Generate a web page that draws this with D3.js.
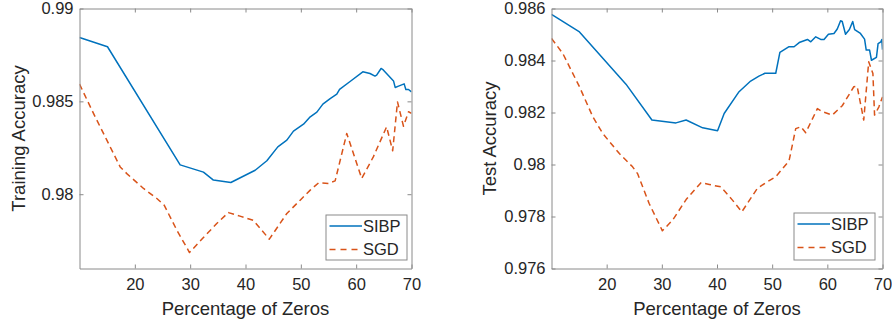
<!DOCTYPE html>
<html><head><meta charset="utf-8">
<script src="https://cdn.jsdelivr.net/npm/d3@7"></script>
<style>body{margin:0;background:#fff;} svg{display:block;font-family:"Liberation Sans",Arial,sans-serif;}</style>
</head><body>
<svg id="c" width="892" height="326"></svg>
<script>
// ---- data ----
const seriesNames = ["SIBP", "SGD"];
const xTicks = [20, 30, 40, 50, 60, 70];
const trainYTicks = [0.98, 0.985, 0.99];
const trainYTickLabels = ["0.98", "0.985", "0.99"];
const testYTicks = [0.976, 0.978, 0.98, 0.982, 0.984, 0.986];
const testYTickLabels = ["0.976", "0.978", "0.98", "0.982", "0.984", "0.986"];

const trainSIBP_x = [10, 15.06, 28.19, 32.4, 34.2, 37.35, 41.75, 43.86, 45.84, 47.47, 48.67, 50.48, 51.7, 52.9, 53.98, 55.3, 56.5, 57.0, 58.9, 61.2, 62.5, 63.4, 63.7, 64.5, 64.9, 66.75, 67.05, 67.65, 68.0, 68.67, 68.98, 69.46, 70];
const trainSIBP_y = [0.98844, 0.98794, 0.98158, 0.98119, 0.98076, 0.98063, 0.98129, 0.9818, 0.98255, 0.98291, 0.9834, 0.98377, 0.98417, 0.98442, 0.98485, 0.98515, 0.98539, 0.98564, 0.98607, 0.98659, 0.9865, 0.98636, 0.98641, 0.98677, 0.98669, 0.9861, 0.98575, 0.98582, 0.98586, 0.98594, 0.98564, 0.98564, 0.98551];
const trainSGD_x = [10, 12.53, 14.94, 17.35, 18.55, 21.57, 23.98, 25.3, 27.6, 29.88, 32.4, 34.8, 36.9, 39.0, 41.4, 44.3, 47.47, 49.88, 51.7, 53.2, 55.0, 56.2, 58.3, 61.0, 63.1, 65.5, 66.6, 67.47, 68.55, 69.46, 70];
const trainSGD_y = [0.98593, 0.98435, 0.98291, 0.98147, 0.98111, 0.98031, 0.97977, 0.97941, 0.97806, 0.97686, 0.97767, 0.97842, 0.97901, 0.97882, 0.9786, 0.97758, 0.97896, 0.97968, 0.98022, 0.98061, 0.98058, 0.98072, 0.98327, 0.98085, 0.98201, 0.98363, 0.98234, 0.98497, 0.98366, 0.98444, 0.98435];

const testSIBP_x = [10, 15.07, 23.5, 28.2, 32.56, 34.4, 37.4, 40.1, 41.3, 44.0, 46.1, 47.6, 48.7, 50.65, 51.4, 53.06, 53.97, 54.9, 56.4, 57.0, 57.9, 58.8, 59.4, 60.2, 61.2, 61.8, 62.4, 62.7, 63.3, 64.0, 64.6, 64.95, 66.0, 66.75, 67.05, 67.66, 68.0, 68.9, 69.2, 69.7, 69.88, 70];
const testSIBP_y = [0.98577, 0.9851, 0.98309, 0.98171, 0.9816, 0.98171, 0.98141, 0.9813, 0.98196, 0.9828, 0.98321, 0.9834, 0.98351, 0.98351, 0.98431, 0.98453, 0.98453, 0.98469, 0.98481, 0.98472, 0.98491, 0.98481, 0.98481, 0.98501, 0.98504, 0.98521, 0.98553, 0.9855, 0.98501, 0.98519, 0.9855, 0.98519, 0.98504, 0.98482, 0.9844, 0.9844, 0.98401, 0.98412, 0.98465, 0.98472, 0.98481, 0.98442];
const testSGD_x = [10, 12.05, 15.07, 17.5, 19.3, 22.3, 24.7, 25.6, 27.7, 30.1, 31.95, 34.4, 37.1, 38.6, 40.7, 42.8, 44.5, 47.3, 48.85, 50.65, 53.06, 54.27, 55.2, 56.08, 58.2, 59.1, 60.9, 62.7, 64.8, 65.4, 66.6, 67.5, 68.26, 68.56, 69.35, 70];
const testSGD_y = [0.98485, 0.98427, 0.98299, 0.98183, 0.98119, 0.98042, 0.97991, 0.97965, 0.9785, 0.97745, 0.97786, 0.97865, 0.9793, 0.97923, 0.97914, 0.97863, 0.97818, 0.97908, 0.9793, 0.97953, 0.98014, 0.98138, 0.98145, 0.98122, 0.98215, 0.98203, 0.9819, 0.98226, 0.98299, 0.98301, 0.98171, 0.98395, 0.9835, 0.9819, 0.98222, 0.9826];

const colors = ["#0072BD", "#D95319"];

// ---- drawing ----
const svg = d3.select("#c");
const axisColor = "#8a8a8a";
const textColor = "#262626";

function panel(cfg) {
  const {left, right, top, bottom, yDomain, yTicks, yTickLabels, ylabel, ylabelX, series, legend} = cfg;
  const x = d3.scaleLinear().domain([10, 70]).range([left, right]);
  const y = d3.scaleLinear().domain(yDomain).range([bottom, top]);
  const g = svg.append("g");
  const clipId = "clip" + Math.round(left);
  g.append("clipPath").attr("id", clipId).append("rect")
    .attr("x", left).attr("y", top).attr("width", right - left).attr("height", bottom - top);

  // lines
  const line = d3.line().x(d => x(d[0])).y(d => y(d[1]));
  series.forEach((s, i) => {
    g.append("path").datum(s.x.map((v, k) => [v, s.y[k]]))
      .attr("clip-path", `url(#${clipId})`)
      .attr("d", line).attr("fill", "none")
      .attr("stroke", colors[i]).attr("stroke-width", 1.5)
      .attr("stroke-linejoin", "round")
      .attr("stroke-dasharray", i === 1 ? "6,4" : null);
  });

  // axes (box with inward ticks on all sides)
  const tl = 4;
  const ax = g.append("g");
  ax.append("g").attr("transform", `translate(0,${bottom})`)
    .call(d3.axisBottom(x).tickValues(xTicks).tickSizeInner(-tl).tickSizeOuter(0).tickPadding(10).tickFormat(d3.format("d")));
  ax.append("g").attr("transform", `translate(0,${top})`)
    .call(d3.axisTop(x).tickValues(xTicks).tickSizeInner(-tl).tickSizeOuter(0).tickFormat(""));
  ax.append("g").attr("transform", `translate(${left},0)`)
    .call(d3.axisLeft(y).tickValues(yTicks).tickSizeInner(-tl).tickSizeOuter(0).tickPadding(6).tickFormat((d, i) => yTickLabels[i]));
  ax.append("g").attr("transform", `translate(${right},0)`)
    .call(d3.axisRight(y).tickValues(yTicks).tickSizeInner(-tl).tickSizeOuter(0).tickFormat(""));
  ax.selectAll("path.domain").attr("stroke", axisColor).attr("stroke-width", 1);
  ax.selectAll(".tick line").attr("stroke", axisColor).attr("stroke-width", 1);
  ax.selectAll(".tick text").attr("fill", textColor).style("font-size", "16.5px")
    .style("font-family", '"Liberation Sans", Arial, sans-serif');

  // axis labels
  g.append("text").attr("x", (left + right) / 2).attr("y", 315)
    .attr("text-anchor", "middle").attr("fill", textColor).style("font-size", "18.5px")
    .text("Percentage of Zeros");
  g.append("text").attr("transform", `translate(${ylabelX},${(top + bottom) / 2}) rotate(-90)`)
    .attr("text-anchor", "middle").attr("fill", textColor).style("font-size", "18.5px")
    .text(ylabel);

  // legend
  const lg = g.append("g");
  lg.append("rect").attr("x", legend.x).attr("y", legend.y).attr("width", legend.w).attr("height", legend.h)
    .attr("fill", "#fff").attr("stroke", axisColor).attr("stroke-width", 1);
  seriesNames.forEach((name, i) => {
    const cy = legend.y + 11 + i * 23.5;
    lg.append("line").attr("x1", legend.x + 3.5).attr("x2", legend.x + 36).attr("y1", cy).attr("y2", cy)
      .attr("stroke", colors[i]).attr("stroke-width", 1.5)
      .attr("stroke-dasharray", i === 1 ? "6,5" : null);
    lg.append("text").attr("x", legend.x + 37).attr("y", cy).attr("dy", "0.36em")
      .attr("fill", textColor).style("font-size", "16.5px").text(name);
  });
}

panel({
  left: 79.5, right: 411.5, top: 8.5, bottom: 268.5,
  yDomain: [0.976, 0.99], yTicks: trainYTicks, yTickLabels: trainYTickLabels,
  ylabel: "Training Accuracy", ylabelX: 24.5,
  series: [{x: trainSIBP_x, y: trainSIBP_y}, {x: trainSGD_x, y: trainSGD_y}],
  legend: {x: 326, y: 215, w: 81, h: 45}
});
panel({
  left: 551.5, right: 882.5, top: 8.5, bottom: 268.5,
  yDomain: [0.976, 0.986], yTicks: testYTicks, yTickLabels: testYTickLabels,
  ylabel: "Test Accuracy", ylabelX: 496,
  series: [{x: testSIBP_x, y: testSIBP_y}, {x: testSGD_x, y: testSGD_y}],
  legend: {x: 794, y: 213, w: 81, h: 47}
});
</script>
</body></html>
